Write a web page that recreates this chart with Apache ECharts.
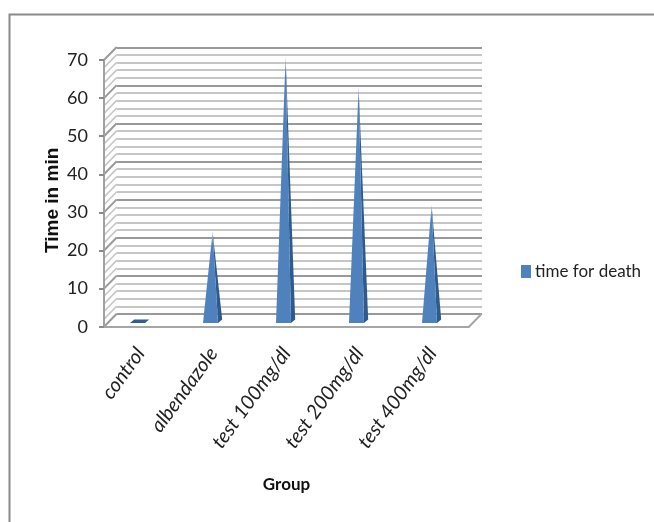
<!DOCTYPE html>
<html>
<head>
<meta charset="utf-8">
<style>html,body{margin:0;padding:0;background:#fff}#c{width:654px;height:522px}</style>
<script src="https://cdn.jsdelivr.net/npm/echarts@6/dist/echarts.min.js"></script>
</head>
<body>
<div id="c"></div>
<script>
const categories = ['control','albendazole','test 100mg/dl','test 200mg/dl','test 400mg/dl'];
const timeForDeath = [0, 24, 70, 62, 31];
const seriesName = 'time for death';
const wallTicks = [0,2,4,6,8,10,12,14,16,18,20,22,24,26,28,30,32,34,36,38,40,42,44,46,48,50,52,54,56,58,60,62,64,66,68,70];
const labelFont = 'Lato,"Open Sans",sans-serif';

const DEPTH_X = 12.7, DEPTH_Y = 13;
const chart = echarts.init(document.getElementById('c'), null, {renderer:'canvas'});

function renderWall(params, api){
  const v = api.value(0), p = api.coord([0, v]), x = params.coordSys.x;
  const major = v % 10 === 0;
  return {type:'line', silent:true,
    shape:{x1:x, y1:p[1], x2:x+DEPTH_X, y2:p[1]-DEPTH_Y},
    style:{stroke: major ? '#9a9a9a' : '#c6c6c6', lineWidth: major ? 2 : 1.6}};
}
function renderFloorEdge(params, api){
  const p = api.coord([0, 0]), x = params.coordSys.x + params.coordSys.width;
  return {type:'line', silent:true,
    shape:{x1:x, y1:p[1], x2:x+DEPTH_X, y2:p[1]-DEPTH_Y},
    style:{stroke:'#a6a6a6', lineWidth:2}};
}
function renderSpike(params, api){
  const i = api.value(0), v = api.value(1);
  const base = api.coord([i, 0]), top = api.coord([i, v]);
  const cx = base[0]-3, hw = 7.5, dx = 4.2, dy = 3.6, lift = 3.6;
  const y0 = base[1]-lift;
  const apex = [cx+dx/2, top[1]-lift];
  const fl=[cx-hw,y0], fr=[cx+hw,y0], br=[cx+hw+dx,y0-dy], bl=[cx-hw+dx,y0-dy];
  if (v === 0) {
    return {type:'polygon', shape:{points:[fl,fr,br,bl]}, style:{fill:'#2f5d94'}};
  }
  const h = y0-apex[1];
  return {type:'group', children:[
    {type:'polygon', shape:{points:[fr,br,apex]},
      style:{fill:'#2f5a8d'}},
    {type:'polygon', shape:{points:[fl,fr,apex]},
      style:{fill:new echarts.graphic.LinearGradient(0,0,0,1,[
        {offset:0,color:'#a9c3e4'},{offset:Math.min(0.5,14/h),color:'#4f81bd'},{offset:1,color:'#4f81bd'}])}}
  ]};
}

chart.setOption({
  animation:false,
  backgroundColor:'#fff',
  legend:{
    data:[seriesName], left:516, top:258, icon:'rect', itemWidth:10, itemHeight:13, itemGap:0,
    textStyle:{fontFamily:labelFont, fontSize:17, color:'#222', padding:[0,0,0,-1]}
  },
  graphic:[
    {type:'polyline', silent:true, z:0,
     shape:{points:[[9.5,522],[9.5,14.5],[654,14.5]]},
     style:{stroke:'#8a8a8a', fill:null, lineWidth:2}}
  ],
  grid:[
    {left:104, top:60, width:365, height:266.7},
    {left:116.7, top:47.3, width:365.3, height:266.7}
  ],
  xAxis:[
    {gridIndex:0, type:'category', data:categories, z:5,
     name:'Group', nameLocation:'middle', nameGap:149, nameMoveOverlap:false,
     nameTextStyle:{fontFamily:labelFont, fontWeight:'bold', fontSize:17, color:'#111'},
     axisLine:{lineStyle:{color:'#a6a6a6', width:2}},
     axisTick:{show:false},
     axisLabel:{interval:0, rotate:54, margin:23, fontFamily:labelFont, fontStyle:'italic', fontSize:20, color:'#222'}},
    {gridIndex:1, type:'category', data:categories, show:false}
  ],
  yAxis:[
    {gridIndex:0, type:'value', min:0, max:70, interval:10, z:5,
     name:'Time in min', nameLocation:'middle', nameGap:42, nameMoveOverlap:false,
     nameTextStyle:{fontFamily:'"Liberation Sans",sans-serif', fontWeight:'bold', fontSize:19, color:'#111', padding:[0,14,0,0]},
     axisLine:{show:true, lineStyle:{color:'#a0a0a0', width:2}},
     axisTick:{show:true, length:5, lineStyle:{color:'#8a8a8a', width:2}},
     axisLabel:{margin:16, fontFamily:labelFont, fontSize:18, color:'#222'},
     splitLine:{show:false}},
    {gridIndex:1, type:'value', min:0, max:70, interval:10,
     axisLine:{show:false}, axisTick:{show:false}, axisLabel:{show:false},
     splitLine:{show:true, lineStyle:{color:'#999999', width:2}},
     minorTick:{show:false, splitNumber:5},
     minorSplitLine:{show:true, lineStyle:{color:'#c6c6c6', width:2}}}
  ],
  series:[
    {type:'custom', xAxisIndex:0, yAxisIndex:0, clip:false, silent:true, z:1,
     renderItem:renderWall, data:wallTicks.map(v=>[v]), encode:{y:0}},
    {type:'custom', xAxisIndex:0, yAxisIndex:0, clip:false, silent:true, z:1,
     renderItem:renderFloorEdge, data:[[0]], encode:{y:0}},
    {type:'custom', name:seriesName, xAxisIndex:0, yAxisIndex:0, clip:false, z:3,
     itemStyle:{color:'#4f81bd'},
     renderItem:renderSpike,
     data:timeForDeath.map((v,i)=>[i,v]), encode:{x:0,y:1}}
  ]
});
</script>
</body>
</html>
